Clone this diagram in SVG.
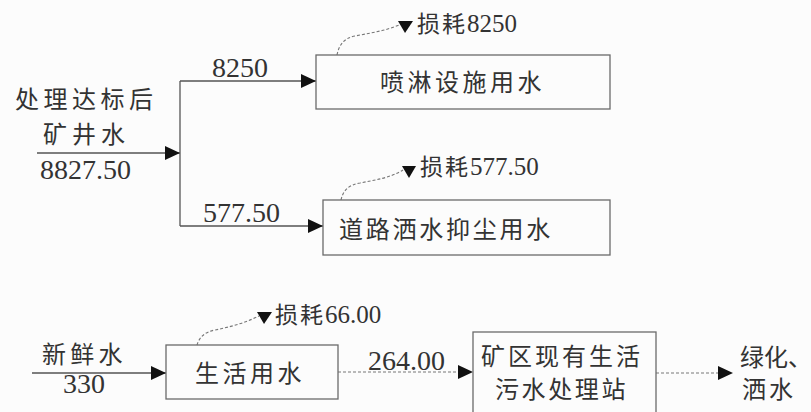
<svg xmlns="http://www.w3.org/2000/svg" width="811" height="412" viewBox="0 0 811 412">
<style>
.bg{fill:#fcfcfc}
.box{fill:none;stroke:#6a6a6a;stroke-width:1.3}
.ln{fill:none;stroke:#555;stroke-width:1.3}
.dash{fill:none;stroke:#777;stroke-width:1.1;stroke-dasharray:3 2}
.tri{fill:#111}
.cn{font-family:"Noto Sans CJK SC","Liberation Serif",serif;fill:#333;font-size:24px}
.num{font-family:"Liberation Serif","Noto Sans CJK SC",serif;fill:#333;font-size:28px}
.loss{font-family:"Liberation Serif","Noto Sans CJK SC",serif;fill:#333;font-size:25px}
</style>
<defs>
<marker id="ah" markerUnits="userSpaceOnUse" markerWidth="16" markerHeight="14" refX="15" refY="7" orient="auto">
<path d="M0,0 L15,7 L0,14 Z" fill="#111"/>
</marker>
</defs>
<rect class="bg" x="0" y="0" width="811" height="412"/>

<g id="connectors">
<line class="ln" x1="37" y1="153" x2="180" y2="153" marker-end="url(#ah)"/>
<line class="ln" x1="180" y1="81" x2="180" y2="226"/>
<line class="ln" x1="180" y1="81" x2="316" y2="81" marker-end="url(#ah)"/>
<line class="ln" x1="180" y1="226" x2="323" y2="226" marker-end="url(#ah)"/>
<path class="dash" d="M337,55 C339,45 344,38 355,36 C370,33 385,31 399,25"/>
<polygon class="tri" points="398,21 413,21 405,33"/>
<path class="dash" d="M341,200 C343,191 348,185 360,183 C375,180 390,178 403,170"/>
<polygon class="tri" points="402,166 416,166 409,178"/>
<line class="ln" x1="32" y1="373" x2="166" y2="373" marker-end="url(#ah)"/>
<path class="dash" d="M197,345 C199,338 204,332 215,330 C230,327 245,323 259,316"/>
<polygon class="tri" points="257,312 272,312 264,324"/>
<line class="dash" x1="338" y1="372" x2="458" y2="372"/>
<polygon class="tri" points="458,365 473,372 458,379"/>
<line class="dash" x1="656" y1="373" x2="718" y2="373"/>
<polygon class="tri" points="718,366 733,373 718,380"/>
</g>

<g id="source-mine">
<text class="cn" x="15" y="108" letter-spacing="4.5">处理达标后</text>
<text class="cn" x="43" y="143" letter-spacing="5">矿井水</text>
<text class="num" x="40" y="179">8827.50</text>
</g>

<g id="label-8250"><text class="num" x="212" y="77">8250</text></g>
<g id="label-577"><text class="num" x="203" y="222" font-size="27">577.50</text></g>

<g id="spray">
<rect class="box" x="316" y="55" width="294" height="54"/>
<text class="cn" x="380" y="91" letter-spacing="3.5">喷淋设施用水</text>
</g>
<g id="loss1"><text class="loss" x="417" y="32"><tspan font-family="Noto Sans CJK SC, sans-serif" font-size="23" letter-spacing="2">损耗</tspan>8250</text></g>

<g id="road">
<rect class="box" x="323" y="200" width="287" height="55"/>
<text class="cn" x="339" y="238" font-size="29" letter-spacing="2.75">道路洒水抑尘用水</text>
</g>
<g id="loss2"><text class="loss" x="420" y="175"><tspan font-family="Noto Sans CJK SC, sans-serif" font-size="23" letter-spacing="2">损耗</tspan>577.50</text></g>

<g id="fresh">
<text class="cn" x="42" y="363" letter-spacing="4.3">新鲜水</text>
<text class="num" x="63" y="393">330</text>
</g>

<g id="domestic">
<rect class="box" x="166" y="345" width="172" height="54"/>
<text class="cn" x="195" y="382" letter-spacing="3.5">生活用水</text>
</g>
<g id="loss3"><text class="loss" x="275" y="323"><tspan font-family="Noto Sans CJK SC, sans-serif" font-size="23" letter-spacing="2">损耗</tspan>66.00</text></g>

<g id="label-264"><text class="num" x="368" y="370">264.00</text></g>

<g id="treatment">
<rect class="box" x="473" y="332" width="183" height="90"/>
<text class="cn" x="481" y="365" font-size="25" letter-spacing="3">矿区现有生活</text>
<text class="cn" x="495" y="398" font-size="25" letter-spacing="2.6">污水处理站</text>
</g>

<g id="green">
<text class="cn" x="740" y="366" font-size="23.5">绿化、</text>
<text class="cn" x="742" y="398" font-size="24" letter-spacing="3">洒水</text>
</g>
</svg>
